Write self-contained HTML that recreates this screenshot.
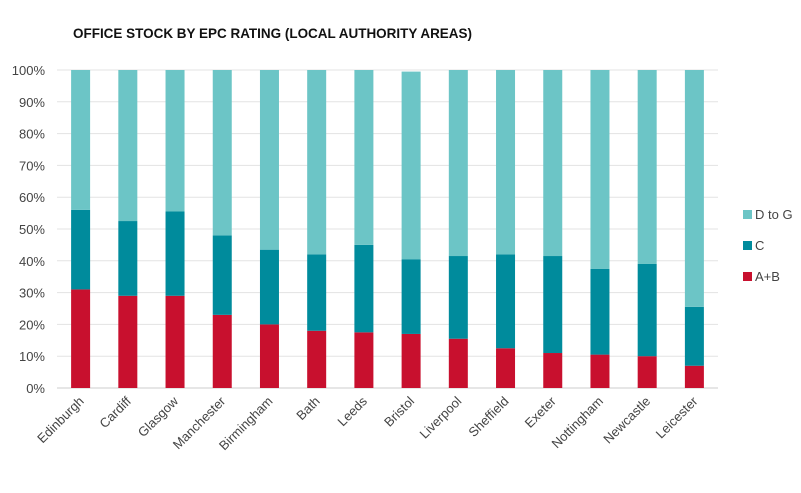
<!DOCTYPE html>
<html><head><meta charset="utf-8"><style>
body{margin:0;background:#fff;width:801px;height:488px;overflow:hidden;font-family:"Liberation Sans",sans-serif}
</style></head><body>
<svg width="801" height="488" id="c">
<text x="73" y="38" font-size="14" font-weight="bold" fill="#111" textLength="399" lengthAdjust="spacingAndGlyphs">OFFICE STOCK BY EPC RATING (LOCAL AUTHORITY AREAS)</text>
<g id="grid"></g><g id="bars"></g><g id="labels"></g>
<g>
<rect x="743" y="210" width="9" height="9" fill="#6cc5c6"/>
<text x="755" y="219" font-size="13" fill="#444">D to G</text>
<rect x="743" y="241" width="9" height="9" fill="#008b9c"/>
<text x="755" y="250" font-size="13" fill="#444">C</text>
<rect x="743" y="272" width="9" height="9" fill="#c8102e"/>
<text x="755" y="281" font-size="13" fill="#444">A+B</text>
</g>
</svg>
<script>
const categories=["Edinburgh","Cardiff","Glasgow","Manchester","Birmingham","Bath","Leeds","Bristol","Liverpool","Sheffield","Exeter","Nottingham","Newcastle","Leicester"];
const ab=[31,29,29,23,20,18,17.5,17,15.5,12.5,11,10.5,10,7];
const c=[25,23.5,26.5,25,23.5,24,27.5,23.5,26,29.5,30.5,27,29,18.5];
const dtog=[44,47.5,44.5,52,56.5,58,55,59,58.5,58,58.5,62.5,61,74.5];
const ticks=[0,10,20,30,40,50,60,70,80,90,100];
const NS="http://www.w3.org/2000/svg";
const x0=57,x1=718,yb=388,yt=70;
const y=v=>yb-(v/100)*(yb-yt);
const bw=(x1-x0)/categories.length;
const xc=i=>x0+bw*(i+0.5);
function mk(t,a,p){const e=document.createElementNS(NS,t);for(const k in a)e.setAttribute(k,a[k]);p.appendChild(e);return e;}
const g=document.getElementById('grid'),b=document.getElementById('bars'),l=document.getElementById('labels');
ticks.forEach(t=>{
const ln=mk('line',{x1:x0,x2:x1,y1:y(t),y2:y(t),stroke:t==0?'#ccc':'#e3e3e3','stroke-width':1},g);


const tx=mk('text',{x:45,y:y(t)+5,'text-anchor':'end','font-size':13,fill:'#444'},g);
tx.textContent=t+'%';


});
categories.forEach((cat,i)=>{
const segs=[[ab[i],'#c8102e','ab'],[c[i],'#008b9c','c'],[dtog[i],'#6cc5c6','dtog']];
let base=0;
segs.forEach(s=>{
const r=mk('rect',{x:xc(i)-9.5,width:19,y:y(base+s[0]),height:y(base)-y(base+s[0]),fill:s[1]},b);


base+=s[0];
});
const tx=mk('text',{x:xc(i)+4,y:402,'text-anchor':'end','font-size':13,fill:'#444',transform:`rotate(-45 ${xc(i)+4} 402)`},l);
tx.textContent=cat;


});
</script>
</body></html>
